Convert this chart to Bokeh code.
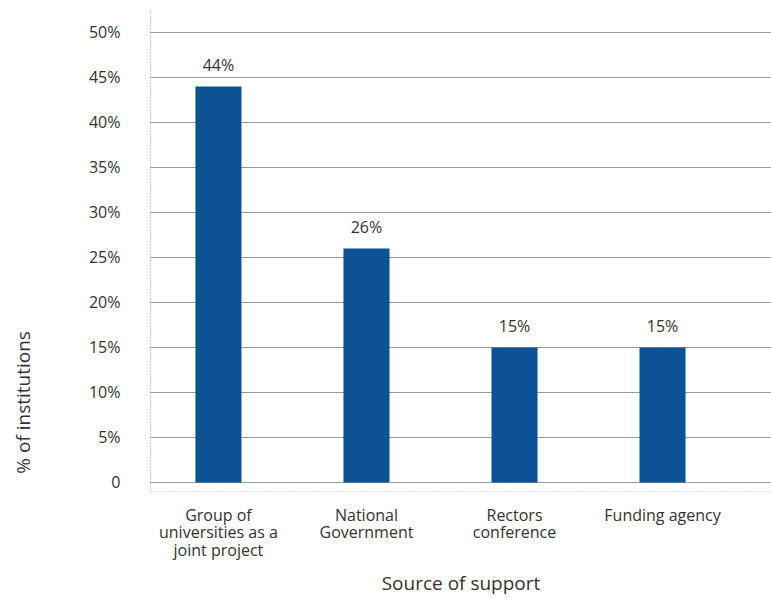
import math
from bokeh.plotting import figure
from bokeh.layouts import row
from bokeh.models import ColumnDataSource, FixedTicker, Range1d
from bokeh.core.properties import value
from bokeh.embed import file_html
from bokeh.resources import INLINE

categories = ["Group of\nuniversities as a\njoint project", "National\nGovernment",
              "Rectors\nconference", "Funding agency"]
values = [44, 26, 15, 15]
value_labels = ["44%", "26%", "15%", "15%"]
y_ticks = [0, 5, 10, 15, 20, 25, 30, 35, 40, 45, 50]
y_tick_labels = ["0", "5%", "10%", "15%", "20%", "25%", "30%", "35%", "40%", "45%", "50%"]
y_title = "% of institutions"
x_title = "Source of support"

FONT = "Open Sans"
TXT = "#333333"
xs = list(range(len(categories)))
src = ColumnDataSource(dict(x=xs, v=values, lbl=value_labels))

LEFT_W = 44
p = figure(frame_width=621, frame_height=481, output_backend="svg", toolbar_location=None,
           x_range=Range1d(-0.459, 3.736), y_range=Range1d(-1.0, 52.44),
           min_border_left=150 - LEFT_W, min_border_right=0, min_border_top=10,
           min_border_bottom=0)
p.outline_line_color = None
p.background_fill_color = "white"

p.vbar(x="x", top="v", bottom=0, width=0.311, source=src, color="#0b5394", line_color=None)
p.text(x="x", y="v", text="lbl", source=src, text_align="center", text_baseline="bottom",
       y_offset=-10, text_font=value(FONT), text_font_size="16px", text_color=TXT)

# axes
p.yaxis.ticker = FixedTicker(ticks=y_ticks)
p.yaxis.major_label_overrides = {t: l for t, l in zip(y_ticks, y_tick_labels)}
p.yaxis.major_tick_line_color = None
p.yaxis.minor_tick_line_color = None
p.yaxis.axis_line_color = "#999999"
p.yaxis.axis_line_dash = "1 2"
p.yaxis.major_label_standoff = 24
p.yaxis.major_label_text_font = FONT
p.yaxis.major_label_text_font_size = "16px"
p.yaxis.major_label_text_color = TXT

p.xaxis.ticker = FixedTicker(ticks=xs)
p.xaxis.major_label_overrides = {i: c for i, c in zip(xs, categories)}
p.xaxis.major_tick_line_color = None
p.xaxis.minor_tick_line_color = None
p.xaxis.axis_line_color = "#cccccc"
p.xaxis.axis_line_dash = "1 2"
p.xaxis.major_label_standoff = 6
p.xaxis.major_label_text_font = FONT
p.xaxis.major_label_text_font_size = "16px"
p.xaxis.major_label_text_line_height = 0.8
p.xaxis.major_label_text_color = TXT
p.xaxis.axis_label = x_title
p.xaxis.axis_label_text_font = FONT
p.xaxis.axis_label_text_font_size = "19px"
p.xaxis.axis_label_text_font_style = "normal"
p.xaxis.axis_label_text_color = TXT
p.xaxis.axis_label_standoff = 6

p.xgrid.grid_line_color = None
p.ygrid.ticker = FixedTicker(ticks=y_ticks)
p.ygrid.grid_line_color = "#333333"
p.ygrid.grid_line_dash = "1 1"
p.ygrid.grid_line_width = 1

# narrow side panel that carries the vertical y-axis title
side = figure(width=LEFT_W, height=599, output_backend="svg", toolbar_location=None,
              x_range=Range1d(0, LEFT_W), y_range=Range1d(0, 599),
              min_border=0)
side.axis.visible = False
side.grid.visible = False
side.outline_line_color = None
side.text(x=[22], y=[112], text=[y_title], angle=math.pi / 2,
          text_align="center", text_baseline="middle", text_font=value(FONT),
          text_font_size="19px", text_color=TXT)

layout = row(side, p, spacing=0)
open("out.html", "w").write(file_html(layout, INLINE))
